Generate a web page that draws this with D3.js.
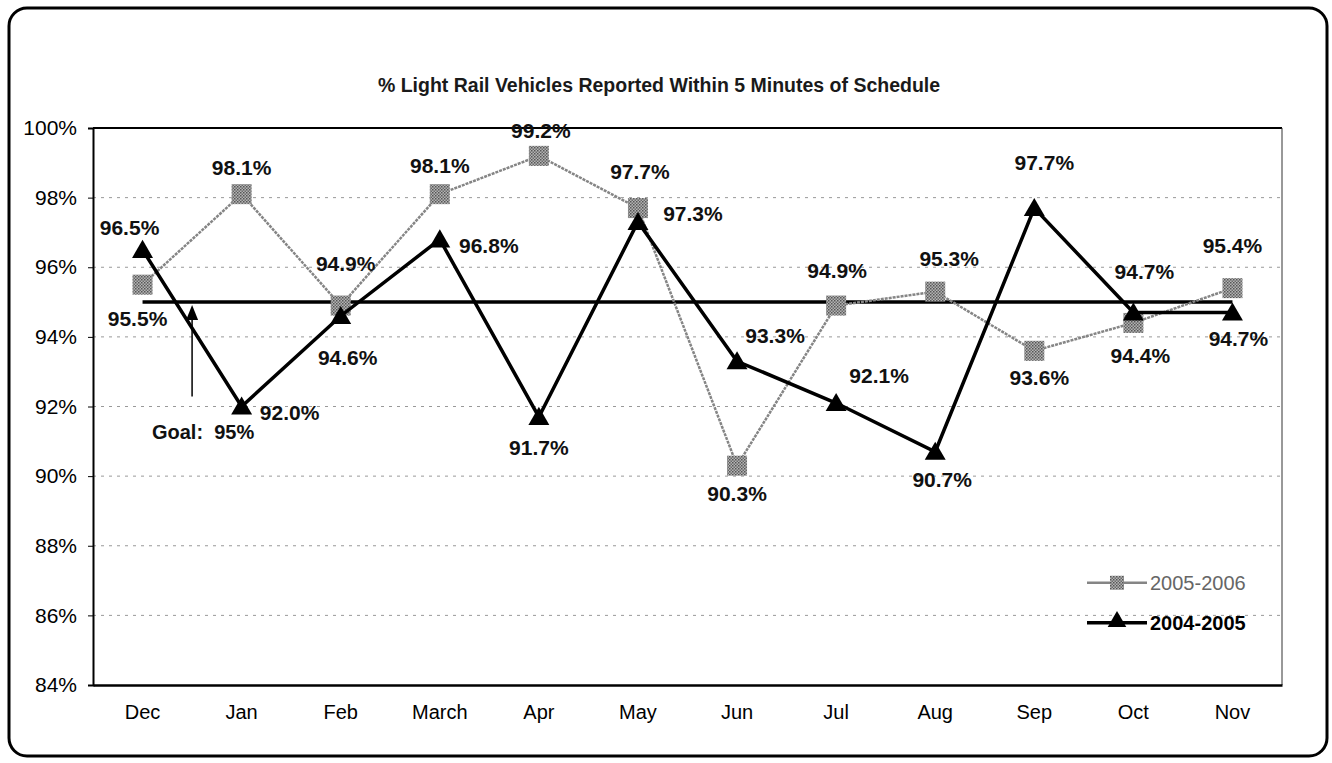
<!DOCTYPE html>
<html>
<head>
<meta charset="utf-8">
<script src="https://cdn.jsdelivr.net/npm/d3@7"></script>
<style>
  html, body { margin: 0; padding: 0; background: #fff; }
  svg { display: block; font-family: Arial, "Liberation Sans", sans-serif; }
</style>
</head>
<body>
<svg id="chart" width="1332" height="763"></svg>
<script>
// ---------- data ----------
const chartTitle = "% Light Rail Vehicles Reported Within 5 Minutes of Schedule";
const categories = ["Dec", "Jan", "Feb", "March", "Apr", "May", "Jun", "Jul", "Aug", "Sep", "Oct", "Nov"];
const seriesNames = ["2005-2006", "2004-2005"];
const values2005_2006 = [95.5, 98.1, 94.9, 98.1, 99.2, 97.7, 90.3, 94.9, 95.3, 93.6, 94.4, 95.4];
const values2004_2005 = [96.5, 92.0, 94.6, 96.8, 91.7, 97.3, 93.3, 92.1, 90.7, 97.7, 94.7, 94.7];
const goalValue = 95;
const goalLabel = "Goal:  95%";
const yTickValues = [84, 86, 88, 90, 92, 94, 96, 98, 100];

// label placement offsets (dx, dy of baseline from the point), style only
const offsets2005_2006 = [[-5, 41], [0, -19], [5, -35], [0, -21], [2, -18], [2, -29], [0, 35], [1, -28], [14, -26], [5, 34], [7, 40], [0, -35]];
const offsets2004_2005 = [[-13, -15], [48, 13], [7, 49], [49, 14], [0, 38], [55, -1], [38, -18], [43, -20], [7, 35], [10, -38], [11, -34], [6, 33]];

// ---------- layout ----------
const svg = d3.select("#chart");
const plot = { left: 93, right: 1282, top: 128, bottom: 685 };

const x = d3.scaleBand().domain(categories).range([plot.left, plot.right]).padding(0);
const y = d3.scaleLinear().domain([84, 100]).range([plot.bottom, plot.top]);
const cx = c => x(c) + x.bandwidth() / 2;

// outer frame
svg.append("rect")
  .attr("x", 9).attr("y", 8).attr("width", 1318).attr("height", 748)
  .attr("rx", 18).attr("ry", 18)
  .attr("fill", "none").attr("stroke", "#000").attr("stroke-width", 3);

// title
svg.append("text")
  .attr("x", 659).attr("y", 92)
  .attr("text-anchor", "middle")
  .attr("font-size", 19.5).attr("font-weight", "bold")
  .attr("fill", "#1a1a1a")
  .text(chartTitle);

// gridlines
svg.append("g").selectAll("line")
  .data(yTickValues.filter(v => v > 84 && v < 100))
  .join("line")
  .attr("x1", plot.left).attr("x2", plot.right)
  .attr("y1", d => y(d)).attr("y2", d => y(d))
  .attr("stroke", "#999").attr("stroke-width", 1)
  .attr("stroke-dasharray", "3,5");

// plot border: top + right thin
svg.append("line").attr("x1", plot.left).attr("x2", plot.right).attr("y1", plot.top).attr("y2", plot.top)
  .attr("stroke", "#000").attr("stroke-width", 2);
svg.append("line").attr("x1", plot.right).attr("x2", plot.right).attr("y1", plot.top).attr("y2", plot.bottom)
  .attr("stroke", "#333").attr("stroke-width", 1);

// y axis
const yAxis = d3.axisLeft(y).tickValues(yTickValues).tickSize(5).tickPadding(11)
  .tickFormat(d => d + "%");
const gy = svg.append("g").attr("transform", `translate(${plot.left},0)`).call(yAxis);
gy.select(".domain").attr("stroke", "#000").attr("stroke-width", 2);
gy.selectAll(".tick line").attr("stroke", "#000");
gy.selectAll(".tick text").attr("font-size", 21).attr("fill", "#000")
  .attr("font-family", "Arial, 'Liberation Sans', sans-serif");

// x axis
const xAxis = d3.axisBottom(x).tickSize(0).tickPadding(20);
const gx = svg.append("g").attr("transform", `translate(0,${plot.bottom})`).call(xAxis);
gx.select(".domain").attr("stroke", "#000").attr("stroke-width", 2.5);
gx.selectAll(".tick text").attr("font-size", 20).attr("fill", "#000")
  .attr("font-family", "Arial, 'Liberation Sans', sans-serif");

// goal line
svg.append("line")
  .attr("x1", cx(categories[0])).attr("x2", cx(categories[categories.length - 1]))
  .attr("y1", y(goalValue)).attr("y2", y(goalValue))
  .attr("stroke", "#000").attr("stroke-width", 3.5);

// goal arrow and label
const arrowX = (cx(categories[0]) + cx(categories[1])) / 2;
svg.append("line")
  .attr("x1", arrowX).attr("x2", arrowX)
  .attr("y1", y(goalValue) + 14).attr("y2", y(92) - 10)
  .attr("stroke", "#000").attr("stroke-width", 1.5);
svg.append("path")
  .attr("d", `M${arrowX},${y(goalValue) + 3} L${arrowX - 6},${y(goalValue) + 18} L${arrowX + 6},${y(goalValue) + 18} Z`)
  .attr("fill", "#000");
svg.append("text")
  .attr("x", arrowX + 11).attr("y", y(92) + 32)
  .attr("text-anchor", "middle")
  .attr("font-size", 20).attr("font-weight", "bold").attr("fill", "#111")
  .style("white-space", "pre")
  .text(goalLabel);

// defs: halftone pattern for gray squares
const defs = svg.append("defs");
const pat = defs.append("pattern").attr("id", "halftone").attr("patternUnits", "userSpaceOnUse")
  .attr("width", 3).attr("height", 3);
pat.append("rect").attr("width", 3).attr("height", 3).attr("fill", "#b4b4b4");
pat.append("rect").attr("width", 1.5).attr("height", 1.5).attr("fill", "#555");
pat.append("rect").attr("x", 1.5).attr("y", 1.5).attr("width", 1.5).attr("height", 1.5).attr("fill", "#6a6a6a");

const line = d3.line().x(d => cx(d.c)).y(d => y(d.v));
const data1 = categories.map((c, i) => ({ c, v: values2005_2006[i], o: offsets2005_2006[i] }));
const data2 = categories.map((c, i) => ({ c, v: values2004_2005[i], o: offsets2004_2005[i] }));

// 2005-2006 gray series
svg.append("path").datum(data1).attr("d", line)
  .attr("fill", "none").attr("stroke", "#858585").attr("stroke-width", 2.5)
  .attr("stroke-dasharray", "3,1");
svg.append("g").selectAll("rect").data(data1).join("rect")
  .attr("x", d => cx(d.c) - 10).attr("y", d => y(d.v) - 10)
  .attr("width", 20).attr("height", 20)
  .attr("fill", "url(#halftone)");

// 2004-2005 black series
svg.append("path").datum(data2).attr("d", line)
  .attr("fill", "none").attr("stroke", "#000").attr("stroke-width", 3.5);
const tri = d3.symbol().type(d3.symbolTriangle).size(190);
svg.append("g").selectAll("path").data(data2).join("path")
  .attr("d", tri)
  .attr("transform", d => `translate(${cx(d.c)},${y(d.v) + 2})`)
  .attr("fill", "#000");

// data labels
const fmt = d3.format(".1f");
svg.append("g").selectAll("text").data(data1).join("text")
  .attr("x", d => cx(d.c) + d.o[0]).attr("y", d => y(d.v) + d.o[1])
  .attr("text-anchor", "middle").attr("font-size", 21).attr("font-weight", "bold").attr("fill", "#111")
  .text(d => fmt(d.v) + "%");
svg.append("g").selectAll("text").data(data2).join("text")
  .attr("x", d => cx(d.c) + d.o[0]).attr("y", d => y(d.v) + d.o[1])
  .attr("text-anchor", "middle").attr("font-size", 21).attr("font-weight", "bold").attr("fill", "#111")
  .text(d => fmt(d.v) + "%");

// legend
const legX1 = 1087, legX2 = 1147, legTextX = 1150;
const legendRows = [
  { name: seriesNames[0], yy: y(88) + 37 },
  { name: seriesNames[1], yy: y(88) + 77 }
];
const lg = svg.append("g");
// row 1 (gray)
lg.append("line").attr("x1", legX1).attr("x2", legX2).attr("y1", legendRows[0].yy).attr("y2", legendRows[0].yy)
  .attr("stroke", "#858585").attr("stroke-width", 2.5);
lg.append("rect").attr("x", (legX1 + legX2) / 2 - 7).attr("y", legendRows[0].yy - 7)
  .attr("width", 14).attr("height", 14).attr("fill", "url(#halftone)");
lg.append("text").attr("x", legTextX).attr("y", legendRows[0].yy + 7)
  .attr("font-size", 20).attr("fill", "#666").text(legendRows[0].name);
// row 2 (black)
lg.append("line").attr("x1", legX1).attr("x2", legX2).attr("y1", legendRows[1].yy).attr("y2", legendRows[1].yy)
  .attr("stroke", "#000").attr("stroke-width", 3.5);
lg.append("path").attr("d", d3.symbol().type(d3.symbolTriangle).size(150))
  .attr("transform", `translate(${(legX1 + legX2) / 2},${legendRows[1].yy - 1})`).attr("fill", "#000");
lg.append("text").attr("x", legTextX).attr("y", legendRows[1].yy + 7)
  .attr("font-size", 20).attr("font-weight", "bold").attr("fill", "#000").text(legendRows[1].name);
</script>
</body>
</html>
